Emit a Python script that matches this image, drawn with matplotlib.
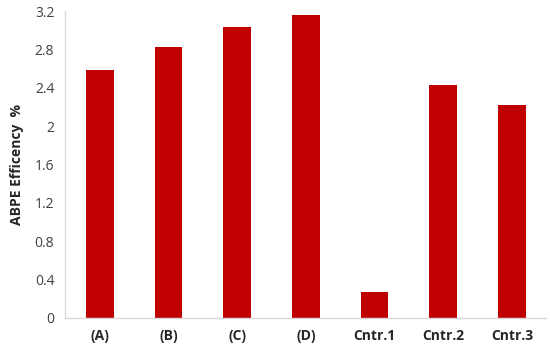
import matplotlib
matplotlib.use("Agg")
import matplotlib.pyplot as plt
import numpy as np

# bar chart values
categories = ["(A)", "(B)", "(C)", "(D)", "Cntr.1", "Cntr.2", "Cntr.3"]
efficiency = [2.59, 2.83, 3.04, 3.16, 0.27, 2.43, 2.22]
yticks = [0, 0.4, 0.8, 1.2, 1.6, 2, 2.4, 2.8, 3.2]
ytick_labels = ["0", "0.4", "0.8", "1.2", "1.6", "2", "2.4", "2.8", "3.2"]

plt.rcParams['font.family'] = ['Open Sans', 'DejaVu Sans']

fig = plt.figure(figsize=(5.5, 3.49), dpi=100)
ax = fig.add_axes([0.119, 0.089, 0.874, 0.879])

x = np.arange(len(categories))
ax.bar(x, efficiency, width=0.4, color="#C00000")

ax.set_xlim(-0.5, len(categories) - 0.5)
ax.set_ylim(0, 3.2)
ax.set_yticks(yticks)
ax.set_yticklabels(ytick_labels, fontsize=10, color="#404040")
ax.set_xticks(x)
ax.set_xticklabels(categories, fontsize=10, fontweight="bold", color="#262626")
ax.tick_params(length=0, pad=8)
ax.tick_params(axis='x', pad=8)

for s in ["top", "right"]:
    ax.spines[s].set_visible(False)
for s in ["left", "bottom"]:
    ax.spines[s].set_color("#D9D9D9")
    ax.spines[s].set_linewidth(1)

ax.set_ylabel("ABPE Efficency  %", fontsize=10, fontweight="bold", color="#262626", labelpad=8)

fig.savefig("out.png", dpi=100)
